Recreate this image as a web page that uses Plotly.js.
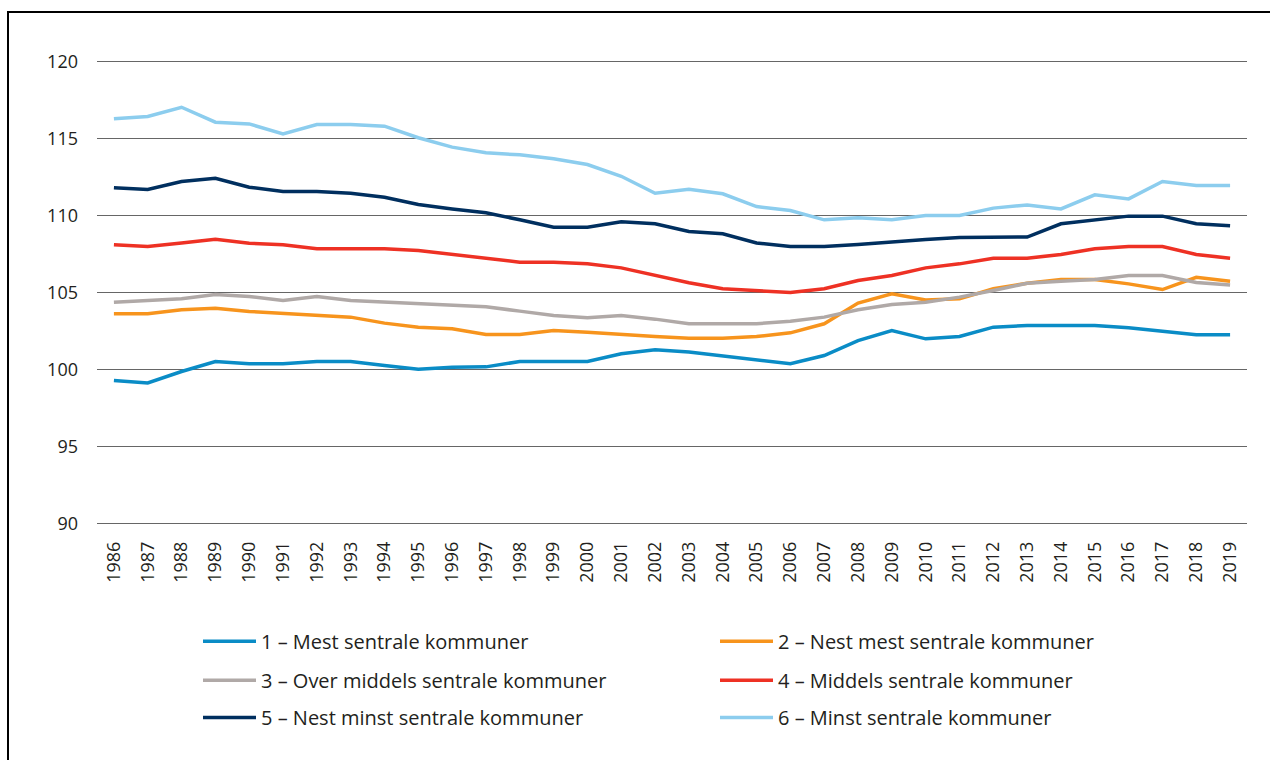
<!DOCTYPE html>
<html>
<head>
<meta charset="utf-8">
<script src="https://cdn.plot.ly/plotly-3.0.1.min.js"></script>
<style>
  html, body { margin: 0; padding: 0; background: #fff; }
  #chart { width: 1270px; height: 760px; position: absolute; left: 0; top: 0; }
  #frame { position: absolute; left: 7px; top: 11px; width: 1400px; height: 900px;
           border-top: 2.5px solid #000; border-left: 2.5px solid #000; pointer-events: none; }
</style>
</head>
<body>
<div id="chart"></div>
<div id="frame"></div>
<script>
const years = ["1986","1987","1988","1989","1990","1991","1992","1993","1994","1995","1996","1997",
  "1998","1999","2000","2001","2002","2003","2004","2005","2006","2007","2008","2009","2010",
  "2011","2012","2013","2014","2015","2016","2017","2018","2019"];

const seriesNames = [
  "1 – Mest sentrale kommuner",
  "2 – Nest mest sentrale kommuner",
  "3 – Over middels sentrale kommuner",
  "4 – Middels sentrale kommuner",
  "5 – Nest minst sentrale kommuner",
  "6 – Minst sentrale kommuner"
];

const mestSentrale = [99.28,99.13,99.87,100.52,100.37,100.37,100.52,100.52,100.26,100.02,100.15,100.17,
  100.52,100.52,100.52,101.02,101.28,101.13,100.89,100.63,100.37,100.91,101.88,102.53,101.99,
  102.14,102.75,102.86,102.86,102.86,102.71,102.49,102.25,102.25];
const nestMestSentrale = [103.62,103.62,103.88,103.98,103.77,103.66,103.55,103.40,103.01,102.75,102.64,102.27,
  102.27,102.53,102.42,102.27,102.14,102.03,102.03,102.14,102.38,102.97,104.31,104.91,104.52,
  104.59,105.24,105.60,105.84,105.84,105.56,105.19,105.99,105.73];
const overMiddels = [104.37,104.48,104.59,104.87,104.74,104.48,104.74,104.48,104.37,104.28,104.18,104.07,
  103.79,103.51,103.36,103.51,103.27,102.97,102.97,102.97,103.14,103.40,103.88,104.22,104.37,
  104.70,105.13,105.60,105.73,105.84,106.10,106.10,105.65,105.48];
const middels = [108.10,107.99,108.22,108.46,108.20,108.10,107.84,107.84,107.84,107.73,107.47,107.22,
  106.97,106.97,106.86,106.60,106.10,105.63,105.24,105.13,105.00,105.24,105.78,106.10,106.60,
  106.86,107.23,107.23,107.47,107.84,107.99,107.99,107.47,107.23];
const nestMinst = [111.80,111.69,112.21,112.42,111.84,111.56,111.56,111.45,111.19,110.71,110.43,110.18,
  109.72,109.24,109.24,109.59,109.46,108.96,108.81,108.22,107.99,107.99,108.12,108.30,108.45,
  108.58,108.60,108.60,109.46,109.72,109.96,109.96,109.46,109.33];
const minst = [116.28,116.43,117.03,116.06,115.95,115.30,115.91,115.91,115.80,115.05,114.44,114.07,
  113.94,113.68,113.31,112.55,111.45,111.71,111.41,110.58,110.32,109.72,109.85,109.72,110.00,
  110.00,110.48,110.69,110.43,111.34,111.08,112.21,111.95,111.95];

const yTicks = [90, 95, 100, 105, 110, 115, 120];

const values = [mestSentrale, nestMestSentrale, overMiddels, middels, nestMinst, minst];
const colors = ["#0a8cc6", "#f7941d", "#b0a9a7", "#ee3124", "#002f5f", "#8ccdee"];
const legendIds = ["legend", "legend", "legend2", "legend2", "legend3", "legend3"];

const traces = values.map((v, i) => ({
  type: "scatter",
  mode: "lines",
  x: years,
  y: v,
  name: seriesNames[i],
  line: { color: colors[i], width: 3.5 },
  legend: legendIds[i],
  hoverinfo: "x+y+name"
}));

const FONT = "Open Sans, sans-serif";
const legendBase = {
  orientation: "h",
  xref: "container",
  xanchor: "left",
  yanchor: "middle",
  x: 198 / 1270,
  entrywidth: 449,
  entrywidthmode: "pixels",
  font: { family: FONT, size: 20, color: "#231f20" },
  bgcolor: "rgba(0,0,0,0)",
  itemwidth: 53
};

const layout = {
  width: 1270,
  height: 760,
  paper_bgcolor: "#ffffff",
  plot_bgcolor: "#ffffff",
  margin: { l: 97, r: 23, t: 59.5, b: 235.4, pad: 0, autoexpand: false },
  showlegend: true,
  xaxis: {
    type: "category",
    range: [-0.5, 33.5],
    tickangle: -90,
    showgrid: false,
    zeroline: false,
    showline: false,
    ticks: "",
    ticklabelstandoff: 12,
    tickfont: { family: FONT, size: 18, color: "#231f20" },
    fixedrange: true
  },
  yaxis: {
    range: [89.9, 120.1],
    tickvals: yTicks,
    ticktext: yTicks.map(String),
    showgrid: true,
    gridcolor: "#666666",
    gridwidth: 1.5,
    zeroline: false,
    showline: false,
    ticks: "",
    ticklabelstandoff: 18,
    tickfont: { family: FONT, size: 18, color: "#231f20" },
    fixedrange: true
  },
  legend: Object.assign({}, legendBase, { y: -0.25 }),
  legend2: Object.assign({}, legendBase, { y: -0.334 }),
  legend3: Object.assign({}, legendBase, { y: -0.414 })
};

Plotly.newPlot("chart", traces, layout, { displayModeBar: false, staticPlot: true });
</script>
</body>
</html>
